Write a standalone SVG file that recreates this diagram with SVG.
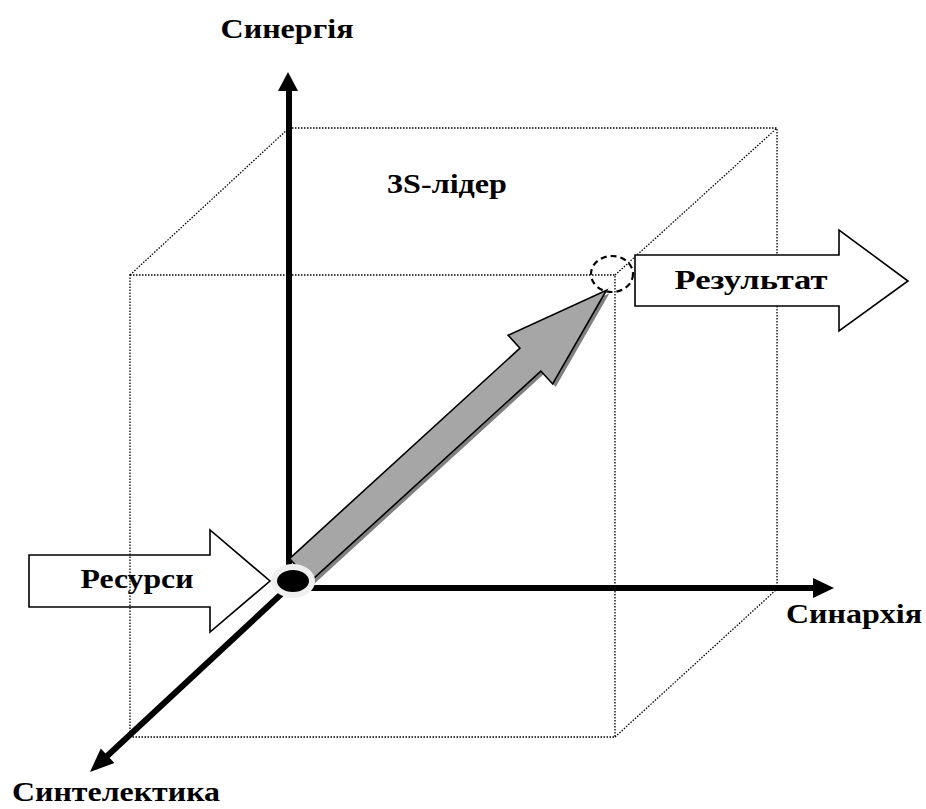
<svg xmlns="http://www.w3.org/2000/svg" width="926" height="809" viewBox="0 0 926 809">
<style>
.lbl{font-family:"Liberation Serif","Times New Roman",serif;font-weight:bold;font-size:27px;fill:#000;text-anchor:middle}
.dot{stroke:#000;stroke-width:1.3;stroke-dasharray:1.5 1.5;fill:none}
.axis{stroke:#000;stroke-width:6;fill:none}
.block{fill:#fff;stroke:#000;stroke-width:1.6;stroke-linejoin:miter}
</style>
<rect width="926" height="809" fill="#fff"/>
<g id="resources">
<polygon class="block" points="29,555 210,555 210,530 270,581 210,632 210,607 29,607"/>
<text class="lbl" x="137" y="588" textLength="113" lengthAdjust="spacingAndGlyphs">Ресурси</text>
</g>
<g id="cube">
<rect class="dot" x="130" y="275" width="485" height="462"/>
<rect class="dot" x="289" y="128" width="488" height="461"/>
<line class="dot" x1="130" y1="275" x2="289" y2="128"/>
<line class="dot" x1="615" y1="275" x2="777" y2="128"/>
<line class="dot" x1="615" y1="737" x2="777" y2="589"/>
</g>
<g id="connectors">
<line class="axis" x1="289" y1="590" x2="289" y2="88"/>
<polygon points="288,72 278,91 298,91" fill="#000"/>
<line class="axis" x1="286" y1="588" x2="815" y2="588"/>
<polygon points="834,588 813,578 813,598" fill="#000"/>
<line class="axis" x1="291" y1="585" x2="105" y2="758"/>
<polygon points="90,772 100.8,748.4 114.4,763" fill="#000"/>
</g>
<g id="vector">
<g transform="translate(303,573) rotate(-42.4)">
<polygon points="0,-15.5 312,-15.5 312,-33 415,0 312,33 312,15.5 0,15.5" fill="#808080"/>
</g>
<g transform="translate(300,570) rotate(-42.4)">
<polygon points="0,-15.5 312,-15.5 312,-33 415,0 312,33 312,15.5 0,15.5" fill="#a6a6a6" stroke="#000" stroke-width="1.6" stroke-linejoin="miter"/>
</g>
</g>
<g id="origin">
<ellipse cx="293" cy="581" rx="19" ry="14" fill="#000" stroke="#efefef" stroke-width="6"/>
</g>
<g id="target">
<ellipse cx="612" cy="274" rx="21" ry="18" fill="none" stroke="#000" stroke-width="2.2" stroke-dasharray="6 4"/>
</g>
<g id="result">
<polygon class="block" points="635,255 839,255 839,230 908,281 839,331 839,306 635,306"/>
<text class="lbl" x="751" y="289" textLength="153" lengthAdjust="spacingAndGlyphs">Результат</text>
</g>
<g id="synergy"><text class="lbl" x="287" y="38" textLength="133" lengthAdjust="spacingAndGlyphs">Синергія</text></g>
<g id="leader"><text class="lbl" x="447" y="193" textLength="120" lengthAdjust="spacingAndGlyphs">3S-лідер</text></g>
<g id="synarchy"><text class="lbl" x="854" y="623" textLength="136" lengthAdjust="spacingAndGlyphs">Синархія</text></g>
<g id="syntelectics"><text class="lbl" x="116" y="801" textLength="208" lengthAdjust="spacingAndGlyphs">Синтелектика</text></g>
</svg>
